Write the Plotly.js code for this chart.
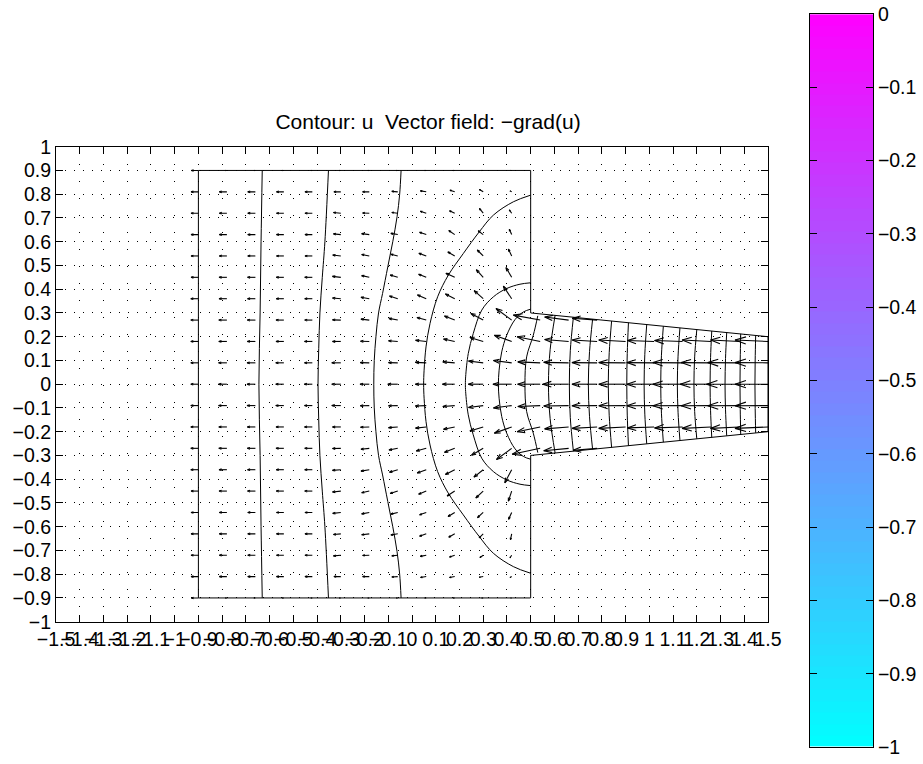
<!DOCTYPE html>
<html><head><meta charset="utf-8">
<script src="https://cdn.plot.ly/plotly-3.0.1.min.js"></script>
<style>html,body{margin:0;padding:0;background:#fff}</style></head>
<body><div id="chart" style="width:923px;height:764px"></div>
<script>
const colX=[-0.9,-0.78,-0.66,-0.54,-0.42,-0.30,-0.18,-0.06,0.06,0.18,0.30,0.42,0.54,0.66,0.78,0.90,1.02,1.14,1.26,1.38,1.5];
const rowY=[0.9,0.81,0.72,0.63,0.54,0.45,0.36,0.27,0.18,0.09,0,-0.09,-0.18,-0.27,-0.36,-0.45,-0.54,-0.63,-0.72,-0.81,-0.9];
const uByRow=[
[-.03,-.006,-.006,-.006,-.006,-.006,-.006,-.006,-.006,-.006,-.006,-.004],
[-.031,-.032,-.032,-.031,-.031,-.029,-.028,-.025,-.025,-.020,-.016,-.007],
[-.031,-.032,-.032,-.031,-.031,-.031,-.028,-.025,-.025,-.022,-.016,-.010],
[-.031,-.032,-.032,-.031,-.031,-.031,-.032,-.029,-.028,-.025,-.021,-.010],
[-.031,-.032,-.032,-.031,-.031,-.034,-.032,-.029,-.031,-.029,-.025,-.014],
[-.031,-.033,-.033,-.032,-.032,-.035,-.032,-.032,-.032,-.037,-.029,-.024],
[-.032,-.033,-.033,-.032,-.032,-.035,-.035,-.035,-.037,-.039,-.038,-.035],
[-.032,-.034,-.034,-.033,-.032,-.035,-.035,-.037,-.039,-.043,-.052,-.066,-.113,-.101,-.105],
[-.032,-.034,-.034,-.033,-.033,-.035,-.037,-.039,-.045,-.047,-.056,-.073,-.097,-.101,-.105,-.113,-.113,-.118,-.122,-.122,-.139],
[-.032,-.035,-.035,-.034,-.033,-.038,-.038,-.039,-.046,-.050,-.062,-.077,-.094,-.105,-.106,-.113,-.115,-.125,-.126,-.134,-.139],
[-.032,-.035,-.035,-.034,-.034,-.038,-.039,-.042,-.046,-.052,-.063,-.079,-.095,-.109,-.106,-.113,-.115,-.125,-.130,-.139,-.139],
[-.032,-.035,-.035,-.034,-.033,-.038,-.038,-.039,-.046,-.050,-.062,-.077,-.094,-.105,-.106,-.113,-.115,-.125,-.126,-.134,-.139],
[-.032,-.034,-.034,-.033,-.033,-.035,-.037,-.039,-.045,-.047,-.056,-.073,-.097,-.101,-.105,-.113,-.113,-.118,-.122,-.122,-.139],
[-.032,-.034,-.034,-.033,-.032,-.035,-.035,-.037,-.042,-.043,-.049,-.064,-.118,-.105,-.101],
[-.032,-.033,-.033,-.032,-.032,-.035,-.035,-.035,-.038,-.039,-.039,-.029],
[-.031,-.033,-.033,-.032,-.032,-.035,-.032,-.032,-.032,-.032,-.031,-.014],
[-.031,-.032,-.032,-.031,-.031,-.034,-.032,-.029,-.028,-.028,-.024,-.013],
[-.031,-.032,-.032,-.031,-.031,-.031,-.032,-.029,-.028,-.025,-.017,-.005],
[-.031,-.032,-.032,-.031,-.031,-.031,-.028,-.025,-.025,-.022,-.014,-.007],
[-.031,-.032,-.032,-.031,-.031,-.029,-.028,-.025,-.024,-.022,-.017,-.007],
[-.03,-.006,-.006,-.006,-.006,-.006,-.006,-.006,-.006,-.006,-.006,-.004]
];
const vByRow=[
[0,0,0,0,0,0,0,0,0,0,0,0],
[0,0,0,0,0,0,0,.002,.004,.007,.010,.004],
[0,0,0,0,0,.003,.001,.003,.008,.010,.020,.014],
[0,0,0,0,0,.003,.004,.005,.010,.017,.016,.022],
[0,0,0,0,0,.004,.006,.007,.011,.017,.025,.029],
[0,0,0,0,0,.004,.007,.010,.013,.017,.032,.041],
[0,0,0,0,0,.003,.006,.011,.016,.020,.034,.053],
[0,0,0,0,0,.001,.004,.007,.011,.017,.028,.049,.021,.013,.008],
[0,0,0,0,0,0,.001,.003,.005,.010,.017,.026,.020,.008,.006,.006,.004,.004,.006,.006,.006],
[0,0,0,0,0,0,.001,.001,.002,.004,.008,.010,.004,.002,.001,.001,.001,.001,.001,.001,.001],
[0,0,0,0,0,0,0,0,0,0,0,0,0,0,0,0,0,0,0,0,0],
[0,0,0,0,0,0,-.001,-.001,-.002,-.004,-.008,-.010,-.004,-.002,-.001,-.001,-.001,-.001,-.001,-.001,-.001],
[0,0,0,0,0,0,-.001,-.003,-.005,-.010,-.017,-.026,-.020,-.008,-.006,-.006,-.004,-.004,-.006,-.006,-.006],
[0,0,0,0,0,-.001,-.004,-.007,-.011,-.017,-.029,-.047,-.025,-.010,-.008],
[0,0,0,0,0,-.003,-.006,-.011,-.014,-.020,-.031,-.055],
[0,0,0,0,0,-.004,-.007,-.010,-.013,-.021,-.029,-.042],
[0,0,0,0,0,-.004,-.006,-.007,-.010,-.017,-.022,-.029],
[0,0,0,0,0,-.003,-.004,-.005,-.010,-.014,-.017,-.025],
[0,0,0,0,0,-.003,-.001,-.003,-.005,-.008,-.010,-.011],
[0,0,0,0,0,0,0,-.002,-.004,-.004,-.003,-.004],
[0,0,0,0,0,0,0,0,0,0,0,0]
];
const contourX=[
[-.631,-.636,-.64,-.645,-.64,-.636,-.631],
[-.352,-.367,-.378,-.388,-.393,-.396,-.393,-.388,-.378,-.367,-.352],
[-.046,-.052,-.063,-.081,-.102,-.124,-.141,-.152,-.159,-.161,-.159,-.152,-.141,-.124,-.102,-.081,-.063,-.052,-.046],
[.5,.427,.343,.283,.216,.153,.108,.076,.059,.051,.049,.051,.059,.076,.108,.153,.216,.283,.343,.427,.5],
[.5,.455,.399,.343,.294,.258,.237,.226,.225,.226,.237,.258,.294,.343,.399,.455,.5],
[.5,.469,.434,.399,.378,.367,.364,.367,.378,.399,.434,.469,.5],
[.53,.511,.483,.476,.483,.511,.53],
[.603,.582,.575,.582,.603],
[.68,.667,.663,.667,.68],
[.761,.748,.743,.748,.761],
[.841,.831,.827,.831,.841],
[.912,.907,.905,.907,.912],
[.989,.981,.978,.981,.989],
[1.059,1.051,1.048,1.051,1.059],
[1.129,1.121,1.118,1.121,1.129],
[1.2,1.191,1.188,1.191,1.2],
[1.263,1.258,1.256,1.258,1.263],
[1.326,1.321,1.319,1.321,1.326],
[1.385,1.383,1.382,1.383,1.385],
[1.448,1.446,1.445,1.446,1.448]
];
const contourY=[
[.9,.6,.3,0,-.3,-.6,-.9],
[.9,.6,.45,.3,.15,0,-.15,-.3,-.45,-.6,-.9],
[.9,.8,.705,.6,.494,.382,.3,.2,.1,0,-.1,-.2,-.3,-.382,-.494,-.6,-.705,-.8,-.9],
[.796,.768,.712,.641,.55,.459,.368,.256,.157,.059,0,-.059,-.157,-.256,-.368,-.459,-.55,-.641,-.712,-.768,-.796],
[.427,.421,.403,.368,.312,.213,.129,.031,0,-.031,-.129,-.213,-.312,-.368,-.403,-.421,-.427],
[.316,.304,.272,.206,.136,.059,0,-.059,-.136,-.206,-.272,-.304,-.316],
[.288,.206,.115,0,-.115,-.206,-.288],
[.29,.145,0,-.145,-.29],
[.282,.141,0,-.141,-.282],
[.274,.137,0,-.137,-.274],
[.266,.133,0,-.133,-.266],
[.259,.13,0,-.13,-.259],
[.251,.126,0,-.126,-.251],
[.244,.122,0,-.122,-.244],
[.237,.118,0,-.118,-.237],
[.23,.115,0,-.115,-.23],
[.224,.112,0,-.112,-.224],
[.217,.108,0,-.108,-.217],
[.212,.106,0,-.106,-.212],
[.205,.102,0,-.102,-.205]
];
const boundaryX=[-.9,.5,.5,1.5,1.5,.5,.5,-.9,-.9];
const boundaryY=[.9,.9,.3,.2,-.2,-.3,-.9,-.9,.9];
const barLevels=[-.992,-.977,-.961,-.945,-.93,-.914,-.898,-.883,-.867,-.852,-.836,-.82,-.805,-.789,-.773,-.758,-.742,-.727,-.711,-.695,-.68,-.664,-.648,-.633,-.617,-.602,-.586,-.57,-.555,-.539,-.523,-.508,-.492,-.477,-.461,-.445,-.43,-.414,-.398,-.383,-.367,-.352,-.336,-.32,-.305,-.289,-.273,-.258,-.242,-.227,-.211,-.195,-.18,-.164,-.148,-.133,-.117,-.102,-.086,-.07,-.055,-.039,-.023,-.008];

const W=923,H=764,FONT='"Liberation Sans",Arial,sans-serif',FS=19.5;
const qx=[],qy=[],a=0.33,b=0.33;
rowY.forEach((y,r)=>{uByRow[r].forEach((u,c)=>{
  const v=vByRow[r][c],x=colX[c],tx=x+u,ty=y+v;
  qx.push(x,tx,null,tx-a*(u+b*v),tx,tx-a*(u-b*v),null);
  qy.push(y,ty,null,ty-a*(v-b*u),ty,ty-a*(v+b*u),null);
});});
const traces=[];
traces.push({type:'scatter',mode:'lines',x:boundaryX,y:boundaryY,line:{color:'#000',width:1},hoverinfo:'skip'});
contourX.forEach((cx,i)=>traces.push({type:'scatter',mode:'lines',x:cx,y:contourY[i],line:{color:'#000',width:1,shape:'spline',smoothing:1},hoverinfo:'skip'}));
traces.push({type:'scatter',mode:'lines',x:qx,y:qy,line:{color:'#000',width:1.1},hoverinfo:'skip'});
traces.push({type:'heatmap',xaxis:'x2',yaxis:'y2',x:[0.5],y:barLevels,z:barLevels.map(l=>[l]),zmin:-1,zmax:0,
  colorscale:[[0,'rgb(0,255,255)'],[1,'rgb(255,0,255)']],showscale:false,hoverinfo:'skip'});
const tf={family:FONT,size:FS,color:'#000'};
const layout={width:W,height:H,margin:{l:0,r:0,t:0,b:0},paper_bgcolor:'#fff',plot_bgcolor:'#fff',showlegend:false,font:tf,
  title:{text:'Contour: u\u00A0\u00A0Vector field: \u2212grad(u)',font:{family:FONT,size:21,color:'#000'},x:428/W,xanchor:'center',y:1-122/H,yanchor:'middle'},
  xaxis:{domain:[56/W,768/W],range:[-1.5,1.5],tick0:-1.5,dtick:0.1,tickangle:0,ticks:'inside',ticklen:7,tickcolor:'#000',tickwidth:1,mirror:'ticks',showline:true,linecolor:'#000',linewidth:1,zeroline:false,showgrid:true,gridcolor:'#000',gridwidth:1,griddash:'1px,16px',tickfont:tf,anchor:'y'},
  yaxis:{domain:[1-621.7/H,1-146.7/H],range:[-1,1],tick0:-1,dtick:0.1,ticks:'inside',ticklen:7,tickcolor:'#000',tickwidth:1,mirror:'ticks',showline:true,linecolor:'#000',linewidth:1,zeroline:false,showgrid:true,gridcolor:'#000',gridwidth:1,griddash:'1px,8px',tickfont:tf,anchor:'x'},
  xaxis2:{domain:[810/W,873/W],range:[0,1],showticklabels:false,ticks:'',showgrid:false,zeroline:false,showline:true,linecolor:'#000',linewidth:1,mirror:true,anchor:'y2'},
  yaxis2:{domain:[1-747/H,1-14/H],range:[-1,0],tick0:0,dtick:0.1,side:'right',ticks:'inside',ticklen:7,tickcolor:'#000',tickwidth:1,mirror:'ticks',showline:true,linecolor:'#000',linewidth:1,showgrid:false,zeroline:false,tickfont:tf,anchor:'x2'}
};
Plotly.newPlot('chart',traces,layout,{staticPlot:true,displayModeBar:false});
</script></body></html>
